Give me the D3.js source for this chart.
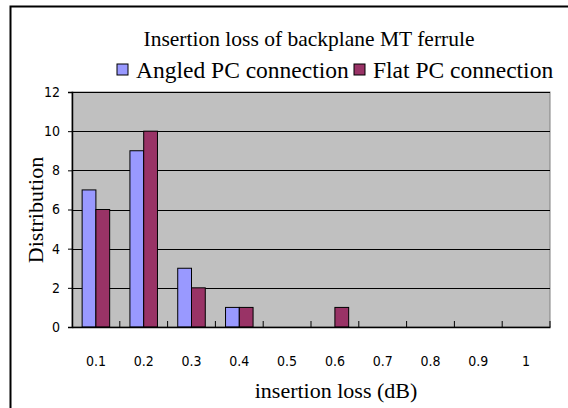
<!DOCTYPE html>
<html>
<head>
<meta charset="utf-8">
<script src="https://cdn.jsdelivr.net/npm/d3@7.9.0/dist/d3.min.js"></script>
<style>
  body { margin: 0; background: #fff; }
  svg { display: block; }
  .serif { font-family: "Liberation Serif", "Times New Roman", serif; fill: #000; }
  .tick text { font-family: "Liberation Sans Narrow", "DejaVu Sans Condensed", "Liberation Sans", Arial, sans-serif; font-size: 14px; fill: #000; }
</style>
</head>
<body>
<svg id="chart" width="568" height="408"></svg>
<script>
const categories = ["0.1", "0.2", "0.3", "0.4", "0.5", "0.6", "0.7", "0.8", "0.9", "1"];
const angled = [7, 9, 3, 1, 0, 0, 0, 0, 0, 0];
const flat = [6, 10, 2, 1, 0, 1, 0, 0, 0, 0];
const seriesNames = ["Angled PC connection", "Flat PC connection"];
const colors = ["#9999FF", "#993366"];
const yTicks = [0, 2, 4, 6, 8, 10, 12];

const svg = d3.select("#chart");
const margin = {left: 72, top: 92, right: 550, bottom: 327};

// outer chart border (only top and left show in the crop)
svg.append("path")
  .attr("d", "M10.5,420 L10.5,6.5 L580,6.5")
  .attr("fill", "none").attr("stroke", "#000").attr("stroke-width", 2);

const x = d3.scaleBand().domain(categories).range([margin.left, margin.right]);
const y = d3.scaleLinear().domain([0, 12]).range([margin.bottom, margin.top]);

// plot background
svg.append("rect")
  .attr("x", margin.left).attr("y", margin.top)
  .attr("width", margin.right - margin.left).attr("height", margin.bottom - margin.top)
  .attr("fill", "#C0C0C0").attr("stroke", "#808080");

// gridlines
svg.append("g").selectAll("line").data(yTicks.filter(d => d > 0)).join("line")
  .attr("x1", margin.left).attr("x2", margin.right)
  .attr("y1", d => Math.round(y(d)) + 0.5).attr("y2", d => Math.round(y(d)) + 0.5)
  .attr("stroke", "#000");

// bars
const barW = x.bandwidth() * 14 / 48.6;
const series = [angled, flat];
series.forEach((vals, s) => {
  const pts = vals.map((v, i) => ({cat: categories[i], v})).filter(d => d.v > 0);
  svg.append("g").selectAll("rect").data(pts).join("rect")
    .attr("x", d => x(d.cat) + x.bandwidth() / 2 - barW + s * barW)
    .attr("y", d => y(d.v))
    .attr("width", barW)
    .attr("height", d => y(0) - y(d.v))
    .attr("fill", colors[s])
    .attr("stroke", "#000").attr("stroke-width", 1);
});

// y axis
const yAxis = svg.append("g")
  .attr("transform", `translate(${margin.left},0)`)
  .call(d3.axisLeft(y).tickValues(yTicks).tickSize(4).tickPadding(8));
yAxis.select(".domain").attr("stroke", "#000").attr("stroke-width", 1.5);

// x axis, ticks between categories
const xAxis = svg.append("g")
  .attr("transform", `translate(0,${margin.bottom})`)
  .call(d3.axisBottom(x).tickSize(0).tickPadding(29));
xAxis.select(".domain").attr("stroke", "#000").attr("stroke-width", 1.5);
xAxis.selectAll(".sep").data(categories).join("line")
  .attr("x1", d => x(d) + x.step())
  .attr("x2", d => x(d) + x.step())
  .attr("y1", 0).attr("y2", -6)
  .attr("stroke", "#000");

// title
svg.append("text").attr("class", "serif")
  .attr("x", 309).attr("y", 46).attr("text-anchor", "middle")
  .attr("font-size", 21.5).text("Insertion loss of backplane MT ferrule");

// legend
const leg = svg.append("g");
const legX = [117, 354];
seriesNames.forEach((name, i) => {
  leg.append("rect").attr("x", legX[i]).attr("y", 64)
    .attr("width", 11).attr("height", 11)
    .attr("fill", colors[i]).attr("stroke", "#000");
  leg.append("text").attr("class", "serif")
    .attr("x", legX[i] + 19).attr("y", 78)
    .attr("font-size", 23.5).text(name);
});

// axis titles
svg.append("text").attr("class", "serif")
  .attr("transform", "translate(43,210) rotate(-90)")
  .attr("text-anchor", "middle").attr("font-size", 22).text("Distribution");
svg.append("text").attr("class", "serif")
  .attr("x", 336).attr("y", 398).attr("text-anchor", "middle")
  .attr("font-size", 22).text("insertion loss (dB)");
</script>
</body>
</html>
